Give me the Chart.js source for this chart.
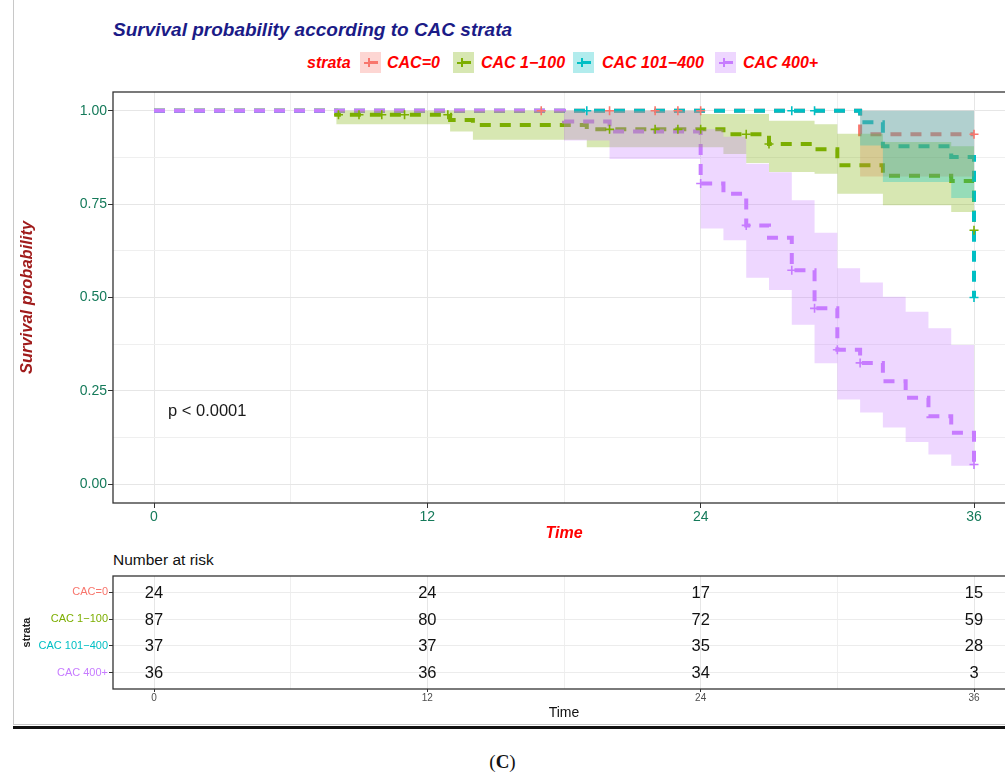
<!DOCTYPE html>
<html lang="en">
<head>
<meta charset="UTF-8">
<title>Survival probability according to CAC strata</title>
<script src="https://cdn.jsdelivr.net/npm/chart.js@4.4.1/dist/chart.umd.min.js"></script>
<style>
  html, body { margin: 0; padding: 0; background: #fff; overflow: hidden; }
  body { font-family: "Liberation Sans", Arial, Helvetica, sans-serif; }
  #page { position: relative; width: 1005px; height: 774px; overflow: hidden; }
  .abs { position: absolute; white-space: nowrap; }
  #frameLeft { left: 13px; top: 0; width: 1px; height: 725px; background: #c8c8c8; }
  #frameBottom { left: 13px; top: 724px; width: 992px; height: 1px; background: #c8c8c8; }
  #rule { left: 13px; top: 726px; width: 992px; height: 3px; background: #111; }
  #title { left: 113px; top: 19px; line-height: 22px; font-size: 19px; font-weight: bold; font-style: italic; color: #1b1b87; }
  .leg { top: 52px; line-height: 21px; font-size: 16px; font-weight: bold; font-style: italic; color: #ff0000; }
  .key { top: 52px; width: 21px; height: 21px; }
  .key i { position: absolute; display: block; }
  #pval { left: 168px; top: 400px; line-height: 20px; font-size: 16.5px; color: #1a1a1a; }
  #risk { left: 113px; top: 551px; line-height: 18px; font-size: 15.5px; color: #111; }
  #cap { left: 0; width: 1005px; top: 751px; text-align: center; font-family: "Liberation Serif", "DejaVu Serif", serif; font-size: 19px; color: #111; }
  #mainBox { left: 0; top: 80px; }
  #riskBox { left: 0; top: 550px; }
</style>
</head>
<body>
<div id="page">
  <div id="frameLeft" class="abs"></div>
  <div id="frameBottom" class="abs"></div>
  <div id="rule" class="abs"></div>
  <div id="title" class="abs">Survival probability according to CAC strata</div>
  <div id="legend"></div>
  <div id="mainBox" class="abs"><canvas id="kmChart" width="1025" height="470"></canvas></div>
  <div id="pval" class="abs">p &lt; 0.0001</div>
  <div id="risk" class="abs">Number at risk</div>
  <div id="riskBox" class="abs"><canvas id="riskChart" width="1025" height="175"></canvas></div>
  <div id="cap" class="abs">(<b>C</b>)</div>
</div>
<script>
// ---- data ----
const strata = ['CAC=0', 'CAC 1\u2212100', 'CAC 101\u2212400', 'CAC 400+'];
const colors = ['#F8766D', '#7CAE00', '#00BFC4', '#C77CFF'];
const monthTicks = [0, 12, 24, 36];
const probTicks = [0, 0.25, 0.5, 0.75, 1];

// CAC=0
const time0 = [0, 31, 36];
const surv0 = [1, 0.937, 0.937];
const bandTime0 = [31, 36];
const upper0 = [1, 1];
const lower0 = [0.824, 0.824];
const censTime0 = [17, 20, 22, 23, 24, 36];
const censSurv0 = [1, 1, 1, 1, 1, 0.937];

// CAC 1-100
const time1 = [0, 8, 13, 14, 19, 24, 25, 26, 27, 29, 30, 32, 35, 36];
const surv1 = [1, 0.989, 0.975, 0.962, 0.950, 0.950, 0.937, 0.937, 0.911, 0.897, 0.854, 0.826, 0.812, 0.68];
const bandTime1 = [8, 13, 14, 19, 24, 25, 26, 27, 29, 30, 32, 35, 36];
const upper1 = [1, 1, 1, 1, 0.991, 0.991, 0.991, 0.973, 0.964, 0.938, 0.916, 0.905, 0.905];
const lower1 = [0.964, 0.944, 0.922, 0.902, 0.902, 0.884, 0.860, 0.836, 0.831, 0.778, 0.747, 0.729, 0.729];
const censTime1 = [8.1, 9, 10, 11, 12.9, 20, 22, 23, 24, 26, 27, 36];
const censSurv1 = [0.989, 0.989, 0.989, 0.989, 0.989, 0.95, 0.95, 0.95, 0.95, 0.937, 0.911, 0.68];

// CAC 101-400
const time2 = [0, 31, 32, 35, 36];
const surv2 = [1, 0.969, 0.905, 0.876, 0.50];
const bandTime2 = [31, 32, 35, 36];
const upper2 = [1, 1, 1, 1];
const lower2 = [0.907, 0.809, 0.766, 0.766];
const censTime2 = [19, 28, 29, 36];
const censSurv2 = [1, 1, 1, 0.50];

// CAC 400+
const time3 = [0, 18, 20, 24, 25, 26, 27, 28, 29, 30, 31, 32, 33, 34, 35, 36];
const surv3 = [1, 0.971, 0.944, 0.805, 0.778, 0.693, 0.66, 0.573, 0.471, 0.36, 0.325, 0.276, 0.232, 0.182, 0.138, 0.053];
const bandTime3 = [18, 20, 24, 25, 26, 27, 28, 29, 30, 31, 32, 33, 34, 35, 36];
const upper3 = [1, 1, 0.95, 0.93, 0.858, 0.835, 0.76, 0.673, 0.578, 0.54, 0.502, 0.462, 0.418, 0.373, 0.373];
const lower3 = [0.92, 0.871, 0.685, 0.653, 0.553, 0.52, 0.427, 0.324, 0.227, 0.192, 0.152, 0.113, 0.08, 0.05, 0.05];
const censTime3 = [24, 26, 28, 29, 30, 31, 36];
const censSurv3 = [0.805, 0.693, 0.573, 0.471, 0.36, 0.325, 0.053];

// number at risk at 0, 12, 24, 36
const risk0 = [24, 24, 17, 15];
const risk1 = [87, 80, 72, 59];
const risk2 = [37, 37, 35, 28];
const risk3 = [36, 36, 34, 3];

// ---- build ----
const series = [
  { time: time0, surv: surv0, bt: bandTime0, up: upper0, lo: lower0, ct: censTime0, cs: censSurv0 },
  { time: time1, surv: surv1, bt: bandTime1, up: upper1, lo: lower1, ct: censTime1, cs: censSurv1 },
  { time: time2, surv: surv2, bt: bandTime2, up: upper2, lo: lower2, ct: censTime2, cs: censSurv2 },
  { time: time3, surv: surv3, bt: bandTime3, up: upper3, lo: lower3, ct: censTime3, cs: censSurv3 }
];
const riskRows = [risk0, risk1, risk2, risk3];

function pts(xs, ys) { return xs.map((x, i) => ({ x: x, y: ys[i] })); }
function alpha(hex, a) {
  const n = parseInt(hex.slice(1), 16);
  return 'rgba(' + (n >> 16) + ',' + ((n >> 8) & 255) + ',' + (n & 255) + ',' + a + ')';
}

Chart.defaults.font.family = '"Liberation Sans", Arial, Helvetica, sans-serif';
Chart.defaults.animation = false;

// legend (html)
(function () {
  const legend = document.getElementById('legend');
  const keyX = [360, 453, 573, 715];
  const textX = [387, 481, 602, 743];
  let html = '<div class="abs leg" style="left:307px">strata</div>';
  strata.forEach((s, i) => {
    html += '<div class="abs key" style="left:' + keyX[i] + 'px;background:' + alpha(colors[i], 0.3) + '">' +
      '<i style="left:10px;top:9px;width:8px;height:3px;background:' + colors[i] + '"></i>' +
      '<i style="left:4px;top:10px;width:9px;height:2px;background:' + colors[i] + '"></i>' +
      '<i style="left:8px;top:6px;width:2px;height:9px;background:' + colors[i] + '"></i></div>' +
      '<div class="abs leg" style="left:' + textX[i] + 'px">' + s + '</div>';
  });
  legend.innerHTML = html;
})();

const isMajorX = v => monthTicks.includes(v);
const isMajorY = v => probTicks.some(p => Math.abs(p - v) < 1e-9);

const panelBorder = {
  id: 'panelBorder',
  afterDraw(chart) {
    const a = chart.chartArea, c = chart.ctx;
    c.save();
    c.strokeStyle = '#333';
    c.lineWidth = 1.3;
    c.strokeRect(a.left, a.top, a.right - a.left, a.bottom - a.top);
    c.restore();
  }
};

// ---- KM chart ----
const datasets = [];
// censor marks on top
[3, 2, 1, 0].forEach(k => {
  const s = series[k];
  datasets.push({
    type: 'scatter', order: 0, data: pts(s.ct, s.cs),
    pointStyle: 'cross', pointRadius: 4.5, pointBorderWidth: 1.6,
    borderColor: colors[k], backgroundColor: colors[k], showLine: false
  });
});
// confidence bands above lines (as in the figure)
[3, 2, 1, 0].forEach(k => {
  const s = series[k];
  datasets.push({
    type: 'line', order: 1, data: pts(s.bt, s.up), stepped: 'before',
    borderWidth: 0, pointRadius: 0, fill: false
  });
  datasets.push({
    type: 'line', order: 1, data: pts(s.bt, s.lo), stepped: 'before',
    borderWidth: 0, pointRadius: 0, fill: '-1', backgroundColor: alpha(colors[k], 0.3)
  });
});
// step lines
[3, 2, 1, 0].forEach(k => {
  const s = series[k];
  datasets.push({
    type: 'line', order: 2, label: strata[k], data: pts(s.time, s.surv), stepped: 'before',
    borderColor: colors[k], borderWidth: 4, borderDash: [11, 9], pointRadius: 0, fill: false
  });
});

new Chart(document.getElementById('kmChart'), {
  type: 'line',
  data: { datasets: datasets },
  options: {
    responsive: false,
    layout: { padding: { top: 12, right: 10, left: 0, bottom: 0 } },
    plugins: { legend: { display: false }, tooltip: { enabled: false }, filler: { drawTime: 'beforeDatasetDraw' } },
    scales: {
      x: {
        type: 'linear', min: -1.8, max: 37.8,
        afterBuildTicks: sc => { sc.ticks = [0, 6, 12, 18, 24, 30, 36].map(v => ({ value: v })); },
        afterFit: sc => { sc.height = 47; },
        ticks: {
          callback: v => isMajorX(v) ? String(v) : '',
          color: '#157a5a', font: { size: 14 }, padding: 1, maxRotation: 0, autoSkip: false
        },
        grid: {
          color: c => isMajorX(c.tick.value) ? '#e6e6e6' : '#efefef',
          tickColor: c => isMajorX(c.tick.value) ? '#333' : 'rgba(0,0,0,0)',
          tickLength: 5, lineWidth: 1
        },
        border: { display: false },
        title: {
          display: true, text: 'Time', color: '#ff0000',
          font: { size: 16, weight: 'bold', style: 'italic' }, padding: { top: 0, bottom: 7 }
        }
      },
      y: {
        type: 'linear', min: -0.05, max: 1.05,
        afterBuildTicks: sc => {
          const t = [];
          for (let i = 0; i <= 8; i++) t.push({ value: i * 0.125 });
          sc.ticks = t;
        },
        afterFit: sc => { sc.width = 113; },
        ticks: {
          callback: v => isMajorY(v) ? v.toFixed(2) : '',
          color: '#157a5a', font: { size: 14 }, padding: 1, autoSkip: false
        },
        grid: {
          color: c => isMajorY(c.tick.value) ? '#e6e6e6' : '#efefef',
          tickColor: c => isMajorY(c.tick.value) ? '#333' : 'rgba(0,0,0,0)',
          tickLength: 5, lineWidth: 1
        },
        border: { display: false },
        title: {
          display: true, text: 'Survival probability', color: '#a01c1c',
          font: { size: 16.5, weight: 'bold', style: 'italic' }, padding: { top: 18, bottom: 0 }
        }
      }
    }
  },
  plugins: [panelBorder]
});

// ---- risk table ----
const riskPoints = [];
riskRows.forEach((row, r) => row.forEach((n, i) => riskPoints.push({ x: monthTicks[i], y: r + 1, n: n })));

const riskText = {
  id: 'riskText',
  afterDatasetsDraw(chart) {
    const c = chart.ctx, xs = chart.scales.x, ys = chart.scales.y;
    c.save();
    c.fillStyle = '#111';
    c.font = '16.5px "Liberation Sans", Arial, sans-serif';
    c.textAlign = 'center';
    c.textBaseline = 'middle';
    chart.data.datasets[0].data.forEach(p => {
      c.fillText(String(p.n), xs.getPixelForValue(p.x), ys.getPixelForValue(p.y) + 1);
    });
    c.restore();
  }
};

new Chart(document.getElementById('riskChart'), {
  type: 'scatter',
  data: { datasets: [{ data: riskPoints, pointRadius: 0 }] },
  options: {
    responsive: false,
    layout: { padding: { top: 26, right: 10, left: 0, bottom: 0 } },
    plugins: { legend: { display: false }, tooltip: { enabled: false } },
    scales: {
      x: {
        type: 'linear', min: -1.8, max: 37.8,
        afterBuildTicks: sc => { sc.ticks = [0, 6, 12, 18, 24, 30, 36].map(v => ({ value: v })); },
        afterFit: sc => { sc.height = 36; },
        ticks: {
          callback: v => isMajorX(v) ? String(v) : '',
          color: '#4d4d4d', font: { size: 10 }, padding: 0, maxRotation: 0, autoSkip: false
        },
        grid: {
          color: c => isMajorX(c.tick.value) ? '#e6e6e6' : '#efefef',
          tickColor: c => isMajorX(c.tick.value) ? '#333' : 'rgba(0,0,0,0)',
          tickLength: 3, lineWidth: 1
        },
        border: { display: false },
        title: { display: true, text: 'Time', color: '#111', font: { size: 14 }, padding: { top: 0, bottom: 3.6 } }
      },
      y: {
        type: 'linear', min: 0.4, max: 4.6, reverse: true,
        afterBuildTicks: sc => { sc.ticks = [1, 2, 3, 4].map(v => ({ value: v })); },
        afterFit: sc => { sc.width = 113; },
        ticks: {
          callback: v => strata[v - 1],
          color: c => colors[c.tick.value - 1], font: { size: 11 }, padding: 1, autoSkip: false
        },
        grid: { color: '#ececec', tickColor: '#333', tickLength: 4, lineWidth: 1 },
        border: { display: false },
        title: { display: true, text: 'strata', color: '#222', font: { size: 11, weight: 'bold' }, padding: { top: 20, bottom: 0 } }
      }
    }
  },
  plugins: [panelBorder, riskText]
});
</script>
</body>
</html>
